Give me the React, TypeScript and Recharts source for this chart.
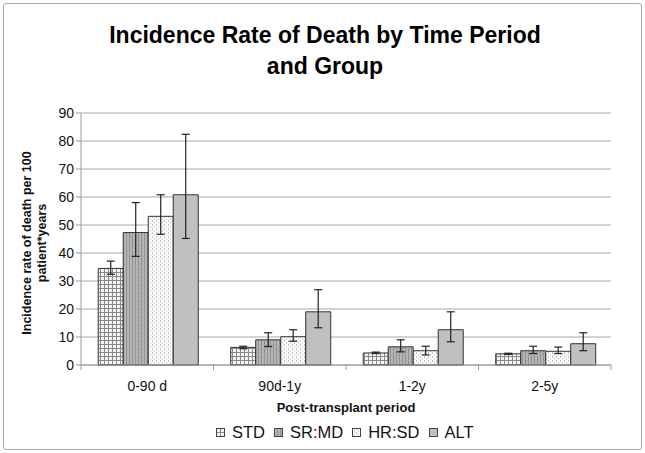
import { BarChart, Bar, XAxis, YAxis, CartesianGrid, ErrorBar, Label } from 'recharts';

const categories = ['0-90 d', '90d-1y', '1-2y', '2-5y'];
const groups = ['STD', 'SR:MD', 'HR:SD', 'ALT'];

// rate, lower and upper error bound per group
const stdRate = [34.5, 6.3, 4.3, 4.0];
const stdLow = [32.4, 5.8, 4.1, 3.8];
const stdHigh = [37.1, 6.7, 4.6, 4.2];

const srmdRate = [47.3, 9.0, 6.5, 5.1];
const srmdLow = [38.8, 6.6, 4.7, 4.1];
const srmdHigh = [58.0, 11.5, 9.0, 6.7];

const hrsdRate = [53.1, 10.1, 5.1, 4.9];
const hrsdLow = [46.7, 8.5, 3.6, 4.1];
const hrsdHigh = [60.8, 12.6, 6.7, 6.4];

const altRate = [60.8, 19.0, 12.6, 7.6];
const altLow = [45.2, 13.3, 8.3, 5.1];
const altHigh = [82.4, 26.9, 19.0, 11.5];

const yTicks = [0, 10, 20, 30, 40, 50, 60, 70, 80, 90];

const series = [
  { key: 'std', rate: stdRate, low: stdLow, high: stdHigh, fill: 'url(#pStd)' },
  { key: 'srmd', rate: srmdRate, low: srmdLow, high: srmdHigh, fill: 'url(#pSrmd)' },
  { key: 'hrsd', rate: hrsdRate, low: hrsdLow, high: hrsdHigh, fill: 'url(#pHrsd)' },
  { key: 'alt', rate: altRate, low: altLow, high: altHigh, fill: '#c0c0c0' },
];

const data = categories.map((cat, i) => {
  const row: any = { cat };
  series.forEach((s) => {
    row[s.key] = s.rate[i];
    row[s.key + 'Err'] = [s.rate[i] - s.low[i], s.high[i] - s.rate[i]];
  });
  return row;
});

const FONT = '"Liberation Sans", Arial, sans-serif';

const CatTick = (props: any) => {
  const { x, y, payload, index } = props;
  const off = payload.offset || 0;
  const top = y - 8;
  return (
    <g>
      <line x1={x - off} y1={top} x2={x - off} y2={top + 5} stroke="#999" />
      {index === categories.length - 1 && (
        <line x1={x + off} y1={top} x2={x + off} y2={top + 5} stroke="#999" />
      )}
      <text x={x} y={y} dy={18} textAnchor="middle" fontSize={14} fill="#111" fontFamily={FONT}>
        {payload.value}
      </text>
    </g>
  );
};

export default function App() {
  return (
    <div style={{ position: 'absolute', left: 0, top: 0, width: 645, height: 453, background: '#fff', fontFamily: FONT }}>
      <div style={{ position: 'absolute', left: 3, top: 3, width: 637, height: 445, border: '1px solid #aaa', borderRadius: 3 }} />
      <div style={{ position: 'absolute', left: 0, top: 20, width: 650, textAlign: 'center', fontWeight: 'bold', fontSize: 23, lineHeight: '31px', color: '#000' }}>
        Incidence Rate of Death by Time Period
        <br />
        and Group
      </div>
      <BarChart
        width={645}
        height={453}
        data={data}
        margin={{ top: 113, right: 34, left: 0, bottom: 0 }}
        barCategoryGap="13%"
        barGap={0}
        style={{ position: 'absolute', left: 0, top: 0 }}
      >
        <defs>
          <pattern id="pStd" width="4" height="4" patternUnits="userSpaceOnUse">
            <rect width="4" height="4" fill="#f4f4f4" />
            <path d="M0 0.5H4M0.5 0V4" stroke="#8a8a8a" strokeWidth="1" />
          </pattern>
          <pattern id="pSrmd" width="3" height="4" patternUnits="userSpaceOnUse">
            <rect width="3" height="4" fill="#b8b8b8" />
            <path d="M0.5 0V4" stroke="#8c8c8c" strokeWidth="1" />
            <path d="M0 0.5H3" stroke="#a8a8a8" strokeWidth="1" />
          </pattern>
          <pattern id="pHrsd" width="4" height="4" patternUnits="userSpaceOnUse">
            <rect width="4" height="4" fill="#fbfbfb" />
            <path d="M0.5 0V2" stroke="#c4c4c4" strokeWidth="1" />
            <path d="M2.5 2V4" stroke="#dadada" strokeWidth="1" />
          </pattern>
        </defs>
        <CartesianGrid vertical={false} stroke="#a8a8a8" />
        <XAxis
          dataKey="cat"
          height={88}
          axisLine={{ stroke: '#999' }}
          tickLine={false}
          tick={<CatTick />}
          interval={0}
        />
        <YAxis
          width={81}
          domain={[0, 90]}
          ticks={yTicks}
          interval={0}
          axisLine={{ stroke: '#999' }}
          tickLine={{ stroke: '#999' }}
          tickSize={5}
          tick={{ fontSize: 14, fill: '#111', fontFamily: FONT }}
        >
          <Label
            content={({ viewBox }: any) => {
              const cy = viewBox.y + viewBox.height / 2 + 4;
              return (
                <g fontFamily={FONT} fontSize={12.5} fontWeight="bold" fill="#111" textAnchor="middle">
                  <text transform={`translate(31, ${cy}) rotate(-90)`}>Incidence rate of death per 100</text>
                  <text transform={`translate(46, ${cy}) rotate(-90)`}>patient*years</text>
                </g>
              );
            }}
          />
        </YAxis>
        {series.map((s, i) => (
          <Bar key={s.key} dataKey={s.key} name={groups[i]} fill={s.fill} stroke="#333" strokeWidth={1} isAnimationActive={false}>
            <ErrorBar dataKey={s.key + 'Err'} width={4} stroke="#222" strokeWidth={1.2} />
          </Bar>
        ))}
      </BarChart>
      <div style={{ position: 'absolute', left: 266, top: 400, width: 160, textAlign: 'center', fontWeight: 'bold', fontSize: 13, color: '#111' }}>
        Post-transplant period
      </div>
      <div style={{ position: 'absolute', left: 216, top: 423, display: 'flex', alignItems: 'center', fontSize: 16.5, color: '#111' }}>
        {series.map((s, i) => (
          <div key={s.key} style={{ display: 'flex', alignItems: 'center', marginRight: 9 }}>
            <svg width={9} height={9} style={{ marginRight: 7 }}>
              <rect x={0.5} y={0.5} width={8} height={8} fill={s.fill} stroke="#444" />
            </svg>
            <span>{groups[i]}</span>
          </div>
        ))}
      </div>
    </div>
  );
}
